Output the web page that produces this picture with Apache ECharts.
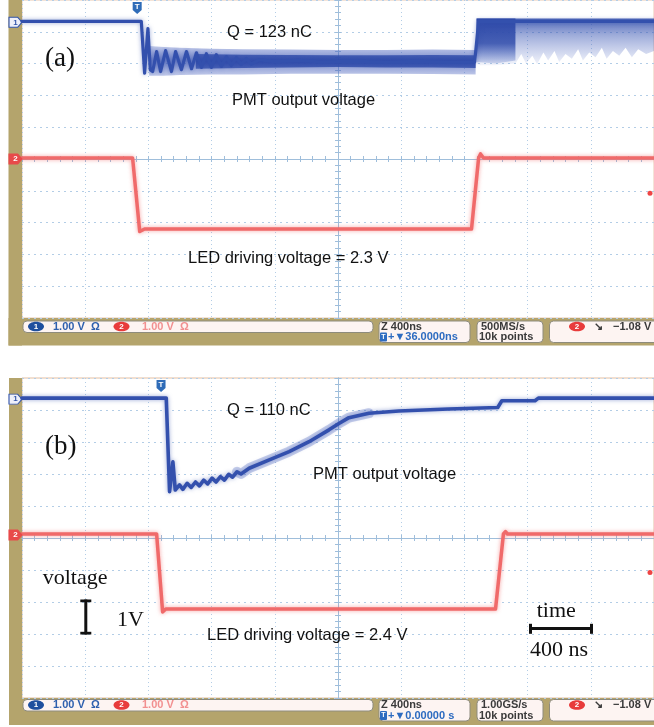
<!DOCTYPE html>
<html><head><meta charset="utf-8">
<script src="https://cdn.jsdelivr.net/npm/echarts@6/dist/echarts.min.js"></script>
<style>html,body{margin:0;padding:0;background:#fff;}#c{width:654px;height:727px;}</style>
</head><body><div id="c"></div>
<script>
// ---------- scales (oscilloscope: 400 ns/div, 1.00 V/div) ----------
const TIME_MIN = -2000, TIME_MAX = 2000, TIME_STEP = 400;   // ns
const VOLT_MIN = -5, VOLT_MAX = 5, VOLT_STEP = 1;           // V
const TRIG_LEVEL = -1.08;                                   // V (ch2 trigger level)

// ---------- panel (a) ----------
const ledA = [[-2000,0.03],[-1300,0.03],[-1255,-2.28],[-1245,-2.33],[-1224,-2.2],[845,-2.2],[890,0.03],[902,0.16],[921,0.03],[2000,0.03]];
const pmtA = [[-2000,4.33],[-1245,4.33],[-1224,2.70],[-1203,4.10],[-1188,2.81],[-1173,2.75],[-1148,3.38],[-1123,2.75],[-1091,3.41],[-1054,2.75],[-1028,3.38],[-991,2.81],[-959,3.38],[-927,2.84],[-896,3.34],[-864,2.88],[-833,3.31],[-801,2.88],[-770,3.28],[-738,2.91],[-706,3.22],[-675,2.94],[-643,3.19],[-612,2.97],[-580,3.16],[-549,2.98],[-500,3.12],[-400,3.06],[-250,3.10],[-100,3.05],[100,3.08],[300,3.04],[500,3.07],[700,3.04],[865,3.05],[877,3.10],[890,4.33],[2000,4.33]];
const pmtABandT  = [-1195,-1100,-1000,-800,-600,-300,0,300,600,871];
const pmtABandHi = [3.55,3.52,3.50,3.47,3.45,3.44,3.43,3.43,3.44,3.43];
const pmtABandLo = [2.62,2.62,2.64,2.66,2.66,2.68,2.68,2.68,2.67,2.66];
const pmtACoreT  = [-900,-600,-300,0,300,600,871];
const pmtACoreHi = [3.30,3.28,3.27,3.26,3.26,3.27,3.26];
const pmtACoreLo = [2.84,2.86,2.88,2.89,2.88,2.88,2.86];
const pmtATailT  = [877,900,1000,1123,1160,1190,1230,1260,1300,1330,1370,1400,1440,1480,1520,1550,1590,1630,1670,1700,1740,1780,1820,1860,1900,1950,2000];
const pmtATailHi = [4.42,4.42,4.42,4.42,4.42,4.42,4.42,4.42,4.42,4.42,4.42,4.42,4.42,4.42,4.42,4.42,4.42,4.42,4.42,4.42,4.42,4.42,4.42,4.42,4.42,4.42,4.42];
const pmtATailLo = [3.00,2.95,2.95,3.00,3.30,3.00,3.25,2.98,3.35,3.10,3.40,3.05,3.30,3.15,3.45,3.10,3.35,3.20,3.50,3.15,3.40,3.25,3.50,3.20,3.45,3.30,3.40];
const pmtADenseT  = [877,1000,1123];
const pmtADenseHi = [4.42,4.42,4.42];
const pmtADenseLo = [3.05,3.00,3.10];
const trigA = -1271;

// ---------- panel (b) ----------
const ledB = [[-2000,0.125],[-1148,0.125],[-1110,-2.31],[-1101,-2.25],[-1090,-2.22],[997,-2.22],[1047,0.125],[1060,0.2],[1073,0.125],[2000,0.125]];
const pmtB = [[-2000,4.37],[-1087,4.37],[-1066,1.45],[-1045,2.38],[-1030,1.5],[-1003,1.66],[-982,1.52],[-955,1.71],[-929,1.58],[-902,1.75],[-877,1.63],[-850,1.81],[-825,1.69],[-797,1.87],[-772,1.75],[-744,1.92],[-719,1.81],[-692,1.99],[-667,1.90],[-639,2.07],[-614,2.0],[-562,2.18],[-435,2.44],[-309,2.70],[-183,3.01],[-57,3.38],[6,3.58],[69,3.76],[196,3.90],[385,3.97],[700,4.03],[1011,4.08],[1037,4.29],[1247,4.29],[1268,4.37],[2000,4.37]];
const trigB = -1120;

// ---------- styles ----------
const BLUE = '#3350ad', RED = '#f06a6a', KHAKI = '#b4a46c';
const GRIDDOT = '#b3cde6', CENTER = '#9fbedb';

function axesFor(gridIndex, primaryX, primaryY) {
  const common = (isX, secondary, onZeroIdx) => ({
    gridIndex, type: 'value',
    min: isX ? TIME_MIN : VOLT_MIN, max: isX ? TIME_MAX : VOLT_MAX,
    interval: isX ? TIME_STEP : VOLT_STEP,
    position: isX ? (secondary ? 'top' : 'bottom') : (secondary ? 'right' : 'left'),
    axisLabel: {show: false},
    axisLine: {show: true, onZero: true, onZeroAxisIndex: onZeroIdx, lineStyle: {color: CENTER, width: 1}},
    axisTick: {show: true, inside: true, length: 3, lineStyle: {color: CENTER}},
    minorTick: {show: true, splitNumber: 5, length: 3, lineStyle: {color: CENTER}},
    splitLine: {show: !secondary, lineStyle: {color: GRIDDOT, width: 1, type: isX ? [1, 3] : [2, 4]}},
    minorSplitLine: {show: false}
  });
  return {
    x: [common(true, false, primaryY), common(true, true, primaryY)],
    y: [common(false, false, primaryX), common(false, true, primaryX)]
  };
}
const axA = axesFor(0, 0, 0), axB = axesFor(1, 2, 2);

function band(xi, yi, tArr, hiArr, loArr, stops, z) {
  return {
    type: 'custom', xAxisIndex: xi, yAxisIndex: yi, z, silent: true, animation: false,
    data: [[tArr[0], hiArr[0]]],
    renderItem(params, api) {
      const up = tArr.map((t, i) => api.coord([t, hiArr[i]]));
      const dn = tArr.map((t, i) => api.coord([t, loArr[i]])).reverse();
      return {type: 'polygon', shape: {points: up.concat(dn)},
        style: {fill: {type: 'linear', x: 0, y: 0, x2: 0, y2: 1, colorStops: stops}}};
    }
  };
}

const chMarker = (coord, txt, fill, stroke, txtColor) => ({
  coord, symbol: 'path://M0,0 L8,0 L12,5 L8,10 L0,10 Z', symbolSize: [13, 10], symbolOffset: [-6.5, 1],
  itemStyle: {color: fill, borderColor: stroke, borderWidth: 1},
  label: {show: true, formatter: txt, color: txtColor, fontSize: 8, fontWeight: 'bold', fontFamily: 'Liberation Sans'}
});
const trigMarker = (t) => ({
  coord: [t, VOLT_MAX], symbol: 'path://M0,0 L10,0 L10,8 L5,12 L0,8 Z', symbolSize: [9, 12], symbolOffset: [0, 8],
  itemStyle: {color: '#2f6cb8'},
  label: {show: true, formatter: 'T', color: '#fff', fontSize: 8, fontWeight: 'bold', fontFamily: 'Liberation Sans', offset: [0, -1]}
});
const levelDot = {coord: [TIME_MAX, TRIG_LEVEL], symbol: 'circle', symbolSize: 5, symbolOffset: [-4, 0], itemStyle: {color: '#ee4444'}, label: {show: false}};

function traceLine(xi, yi, data, color, width, z, markers, shadow) {
  return {
    type: 'line', xAxisIndex: xi, yAxisIndex: yi, data, symbol: 'none', z, animation: false, silent: true,
    lineStyle: {color, width, shadowColor: shadow, shadowBlur: 4, cap: 'round', join: 'round'},
    markPoint: markers ? {silent: true, animation: false, data: markers} : undefined
  };
}

const series = [
  band(0, 0, pmtABandT, pmtABandHi, pmtABandLo, [{offset: 0, color: 'rgba(80,105,195,0.35)'}, {offset: 0.5, color: 'rgba(55,80,175,0.7)'}, {offset: 1, color: 'rgba(80,105,195,0.35)'}], 3),
  band(0, 0, pmtACoreT, pmtACoreHi, pmtACoreLo, [{offset: 0, color: 'rgba(50,78,172,0.8)'}, {offset: 0.5, color: 'rgba(45,72,168,0.95)'}, {offset: 1, color: 'rgba(50,78,172,0.8)'}], 3),
  band(0, 0, pmtATailT, pmtATailHi, pmtATailLo, [{offset: 0, color: 'rgba(50,78,172,0.85)'}, {offset: 0.35, color: 'rgba(60,88,180,0.5)'}, {offset: 1, color: 'rgba(90,115,200,0.08)'}], 3),
  band(0, 0, pmtADenseT, pmtADenseHi, pmtADenseLo, [{offset: 0, color: 'rgba(45,72,168,0.95)'}, {offset: 0.55, color: 'rgba(50,78,172,0.85)'}, {offset: 1, color: 'rgba(70,100,190,0.2)'}], 3),
  traceLine(0, 0, pmtA, BLUE, 3.2, 5, [chMarker([TIME_MIN, pmtA[0][1]], '1', '#eef0fa', '#3355aa', '#3355aa'), trigMarker(trigA)], 'rgba(51,80,173,0.5)'),
  traceLine(0, 0, ledA, RED, 3.5, 4, [chMarker([TIME_MIN, ledA[0][1]], '2', '#e84a4a', '#e84a4a', '#fff'), levelDot], 'rgba(240,100,100,0.6)'),
  {type: 'line', xAxisIndex: 2, yAxisIndex: 2, data: pmtB.filter(p => p[0] >= -640 && p[0] <= 200), symbol: 'none', z: 4, animation: false, silent: true,
   lineStyle: {color: 'rgba(70,95,190,0.3)', width: 10, cap: 'round', join: 'round'}},
  traceLine(2, 2, pmtB, BLUE, 3.6, 5, [chMarker([TIME_MIN, pmtB[0][1]], '1', '#eef0fa', '#3355aa', '#3355aa'), trigMarker(trigB)], 'rgba(51,80,173,0.5)'),
  traceLine(2, 2, ledB, RED, 3.5, 4, [chMarker([TIME_MIN, ledB[0][1]], '2', '#e84a4a', '#e84a4a', '#fff'), levelDot], 'rgba(240,100,100,0.6)')
];

// ---------- decorations ----------
const SANS = '"Liberation Sans", Arial, sans-serif', SERIF = '"Liberation Serif", "Times New Roman", serif';
const txt = (x, y, text, font, fill, align, z) => ({type: 'text', x, y, z: z || 100,
  style: {text, font, fill, align: align || 'left', verticalAlign: 'middle'}});
const rect = (x, y, w, h, fill, z, r, stroke) => ({type: 'rect', z: z || 0,
  shape: {x, y, width: w, height: h, r: r || 0}, style: {fill, stroke: stroke || null, lineWidth: stroke ? 1 : 0}});
const ell = (cx, cy, fill) => ({type: 'ellipse', z: 3, shape: {cx, cy, rx: 8, ry: 4.8}, style: {fill}});

function status(y0, delayText, rateText) {
  const l1 = y0 + 5.5, l2 = y0 + 16;
  const F = 'bold 11px ' + SANS;
  return [
    rect(23, y0, 350, 11.5, '#fdf4f2', 2, 4, '#8d8b7c'),
    rect(379, y0, 91, 21.5, '#fdf4f2', 2, 4, '#8d8b7c'),
    rect(477, y0, 66, 21.5, '#fdf4f2', 2, 4, '#8d8b7c'),
    rect(549.5, y0, 115, 21.5, '#fdf4f2', 2, 4, '#8d8b7c'),
    ell(36, l1, '#1e4f9e'), txt(36, l1, '1', 'bold 8px ' + SANS, '#fff', 'center', 4),
    txt(53, l1, '1.00 V', F, '#2d5fae', 'left', 4), txt(91, l1, 'Ω', F, '#2d5fae', 'left', 4),
    ell(121.5, l1, '#e83b3b'), txt(121.5, l1, '2', 'bold 8px ' + SANS, '#fff', 'center', 4),
    txt(142, l1, '1.00 V', F, '#f29090', 'left', 4), txt(180, l1, 'Ω', F, '#f29090', 'left', 4),
    txt(381, l1, 'Z 400ns', F, '#3a3a3a', 'left', 4),
    rect(380, l2 - 4.5, 7, 9, '#2d6bc0', 3, 1), txt(383.5, l2, 'T', 'bold 7px ' + SANS, '#fff', 'center', 4),
    txt(388, l2, '+▼' + delayText, F, '#2d6bc0', 'left', 4),
    txt(481, l1, rateText, F, '#3a3a3a', 'left', 4),
    txt(479, l2, '10k points', F, '#3a3a3a', 'left', 4),
    ell(577, l1, '#e83b3b'), txt(577, l1, '2', 'bold 8px ' + SANS, '#fff', 'center', 4),
    txt(594, l1, '↘', F, '#3a3a3a', 'left', 4),
    txt(613, l1, '−1.08 V', F, '#3a3a3a', 'left', 4)
  ];
}

const graphic = [
  rect(8.5, 0, 13.5, 345.5, KHAKI, 0), rect(8.5, 318, 646, 27.5, KHAKI, 0),
  rect(9, 378, 13, 347, KHAKI, 0), rect(9, 698, 645, 27, KHAKI, 0),
  ...status(321, '36.0000ns', '500MS/s'),
  ...status(699.5, '0.00000 s', '1.00GS/s'),
  txt(227, 32.5, 'Q = 123 nC', '16.5px ' + SANS, '#111'),
  txt(232, 100, 'PMT output voltage', '16.5px ' + SANS, '#111'),
  txt(188, 258.3, 'LED driving voltage = 2.3 V', '16.5px ' + SANS, '#111'),
  txt(45, 58.5, '(a)', '27px ' + SERIF, '#111'),
  txt(227, 410.8, 'Q = 110 nC', '16.5px ' + SANS, '#111'),
  txt(313, 474, 'PMT output voltage', '16.5px ' + SANS, '#111'),
  txt(207, 635.5, 'LED driving voltage = 2.4 V', '16.5px ' + SANS, '#111'),
  txt(45, 447, '(b)', '27px ' + SERIF, '#111'),
  txt(42.7, 578, 'voltage', '22px ' + SERIF, '#111'),
  txt(117, 620, '1V', '22px ' + SERIF, '#111'),
  txt(536.7, 611.5, 'time', '22px ' + SERIF, '#111'),
  txt(530, 650, '400 ns', '22px ' + SERIF, '#111'),
  rect(84.3, 599.5, 3, 35, '#111', 100), rect(80.3, 599.5, 11, 2.7, '#111', 100), rect(80.3, 631.8, 11, 2.7, '#111', 100),
  rect(529, 627, 64, 3, '#111', 100), rect(529, 623.8, 3, 10, '#111', 100), rect(590, 623.8, 3, 10, '#111', 100)
];

const chart = echarts.init(document.getElementById('c'), null, {renderer: 'canvas'});
chart.setOption({
  animation: false,
  backgroundColor: '#ffffff',
  grid: [
    {left: 22, top: -2, width: 634, height: 320, show: true, backgroundColor: '#ffffff', borderColor: '#e9c8b0', borderWidth: 1},
    {left: 22, top: 378, width: 634, height: 320, show: true, backgroundColor: '#ffffff', borderColor: '#e3bfa2', borderWidth: 1}
  ],
  xAxis: [...axA.x, ...axB.x],
  yAxis: [...axA.y, ...axB.y],
  series,
  graphic
});
</script></body></html>
